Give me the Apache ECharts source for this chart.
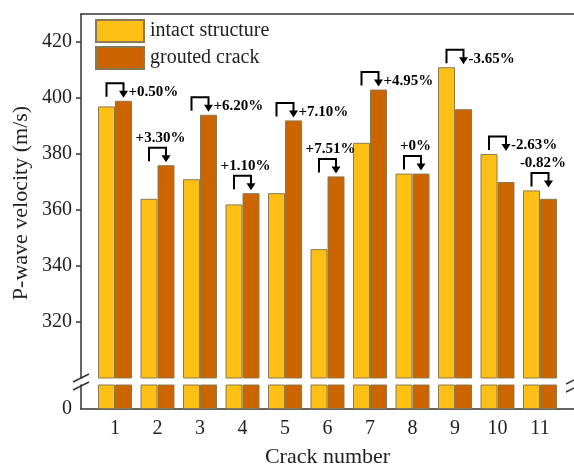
<!DOCTYPE html>
<html>
<head>
<meta charset="utf-8">
<script src="https://cdn.jsdelivr.net/npm/echarts@6/dist/echarts.min.js"></script>
<style>html,body{margin:0;padding:0;background:#fff}#c{width:574px;height:469px}</style>
</head>
<body>
<div id="c"></div>
<script>
const categories = ['1','2','3','4','5','6','7','8','9','10','11'];
const intact = [397, 364, 371, 362, 366, 346, 384, 373, 411, 380, 367];
const grouted = [399, 376, 394, 366, 392, 372, 403, 373, 396, 370, 364];
const changeLabels = ['+0.50%','+3.30%','+6.20%','+1.10%','+7.10%','+7.51%','+4.95%','+0%','-3.65%','-2.63%','-0.82%'];
const labelSide = ['right','top','right','top','right','top','right','top','right','right','top'];
const yTicks = [320, 340, 360, 380, 400, 420];
const xTicks = categories.map(Number);

const FONT = 'Liberation Serif';
const YELLOW = '#FEC015';
const ORANGE = '#CC6400';
const BORDER = '#8a7a50';
const AXIS = '#333';

const chart = echarts.init(document.getElementById('c'), null, {renderer: 'canvas'});

function pairs(arr) { return arr.map((v, i) => [Number(categories[i]), v]); }

function renderItem(params, api) {
  const i = params.dataIndex;
  const x = api.value(0);
  const pY = api.coord([x, api.value(1)]);
  const pO = api.coord([x, api.value(2)]);
  const cx = pY[0];
  const xl = cx - 8.5, xr = cx + 8.5;
  const top = Math.min(pY[1], pO[1]);
  const yb = top - 17.5;
  const children = [
    {type: 'polyline', shape: {points: [[xl, top - 4], [xl, yb], [xr, yb], [xr, top - 9]]},
     style: {stroke: '#000', lineWidth: 2, fill: null}},
    {type: 'polygon', shape: {points: [[xr - 4.5, top - 10], [xr + 4.5, top - 10], [xr, top - 3]]},
     style: {fill: '#000'}}
  ];
  const side = labelSide[i];
  const txt = changeLabels[i];
  if (side === 'right') {
    children.push({type: 'text', style: {text: txt, x: xr + 5, y: yb + 9, align: 'left', verticalAlign: 'middle',
      font: 'bold 15px "' + FONT + '"', fill: '#000'}});
  } else {
    children.push({type: 'text', style: {text: txt, x: cx + 3, y: yb - 2, align: 'center', verticalAlign: 'bottom',
      font: 'bold 15px "' + FONT + '"', fill: '#000'}});
  }
  return {type: 'group', children};
}

const barStyle = (c) => ({color: c, borderColor: BORDER, borderWidth: 1});

const option = {
  animation: false,
  backgroundColor: '#fff',
  textStyle: {fontFamily: FONT},
  legend: {
    orient: 'vertical', left: 95, top: 19, itemWidth: 48, itemHeight: 22, itemGap: 3, padding: 0,
    icon: 'rect',
    textStyle: {fontFamily: FONT, fontSize: 20, color: '#222', padding: [0, 0, 0, 1]},
    data: ['intact structure', 'grouted crack']
  },
  grid: [
    {left: 81, right: -2, top: 14, height: 364},
    {left: 81, right: -2, top: 385, height: 28}
  ],
  xAxis: [
    {type: 'value', gridIndex: 0, min: 0.2, max: 11.8, position: 'top',
     axisLine: {show: true, lineStyle: {color: AXIS, width: 1.5}}, axisTick: {show: false},
     axisLabel: {show: false}, splitLine: {show: false}},
    {type: 'value', gridIndex: 1, min: 0.2, max: 11.8, position: 'bottom',
     axisLine: {show: true, lineStyle: {color: AXIS, width: 1.5}}, axisTick: {show: false},
     axisLabel: {customValues: xTicks, fontFamily: FONT, fontSize: 20, color: '#222', margin: 10},
     splitLine: {show: false},
     name: 'Crack number', nameLocation: 'middle', nameGap: 37,
     nameTextStyle: {fontFamily: FONT, fontSize: 22, color: '#222'}}
  ],
  yAxis: [
    {type: 'value', gridIndex: 0, min: 300, max: 430,
     axisLine: {show: true, lineStyle: {color: AXIS, width: 1.5}},
     axisTick: {show: true, customValues: yTicks, length: 5, inside: false, lineStyle: {color: AXIS, width: 1.5}},
     axisLabel: {customValues: yTicks, fontFamily: FONT, fontSize: 20, color: '#222', margin: 9},
     splitLine: {show: false}},
    {type: 'value', gridIndex: 1, min: 0, max: 10,
     axisLine: {show: true, lineStyle: {color: AXIS, width: 1.5}},
     axisTick: {show: false},
     axisLabel: {customValues: [0], fontFamily: FONT, fontSize: 20, color: '#222', margin: 9},
     splitLine: {show: false}}
  ],
  series: [
    {name: 'intact structure', type: 'bar', xAxisIndex: 0, yAxisIndex: 0, data: pairs(intact),
     barWidth: 17, barGap: '0%', itemStyle: barStyle(YELLOW), clip: true},
    {name: 'grouted crack', type: 'bar', xAxisIndex: 0, yAxisIndex: 0, data: pairs(grouted),
     barWidth: 17, barGap: '0%', itemStyle: barStyle(ORANGE), clip: true},
    {name: 'intact structure', type: 'bar', xAxisIndex: 1, yAxisIndex: 1, data: pairs(intact),
     barWidth: 17, barGap: '0%', itemStyle: barStyle(YELLOW), clip: true},
    {name: 'grouted crack', type: 'bar', xAxisIndex: 1, yAxisIndex: 1, data: pairs(grouted),
     barWidth: 17, barGap: '0%', itemStyle: barStyle(ORANGE), clip: true},
    {type: 'custom', xAxisIndex: 0, yAxisIndex: 0, renderItem: renderItem, silent: true, z: 5,
     encode: {x: 0, y: [1, 2]},
     data: intact.map((v, i) => [Number(categories[i]), v, grouted[i]])}
  ],
  graphic: [
    {type: 'text', rotation: Math.PI / 2, x: 21, y: 203,
     style: {text: 'P-wave velocity (m/s)', font: '22px "' + FONT + '"', fill: '#222', align: 'center', verticalAlign: 'middle'}},
    {type: 'line', shape: {x1: 73, y1: 382, x2: 89, y2: 374}, style: {stroke: AXIS, lineWidth: 1.5}},
    {type: 'line', shape: {x1: 73, y1: 390, x2: 89, y2: 382}, style: {stroke: AXIS, lineWidth: 1.5}},
    {type: 'line', shape: {x1: 566, y1: 384, x2: 582, y2: 376}, style: {stroke: AXIS, lineWidth: 1.5}},
    {type: 'line', shape: {x1: 566, y1: 392, x2: 582, y2: 384}, style: {stroke: AXIS, lineWidth: 1.5}}
  ]
};
chart.setOption(option);
</script>
</body>
</html>
